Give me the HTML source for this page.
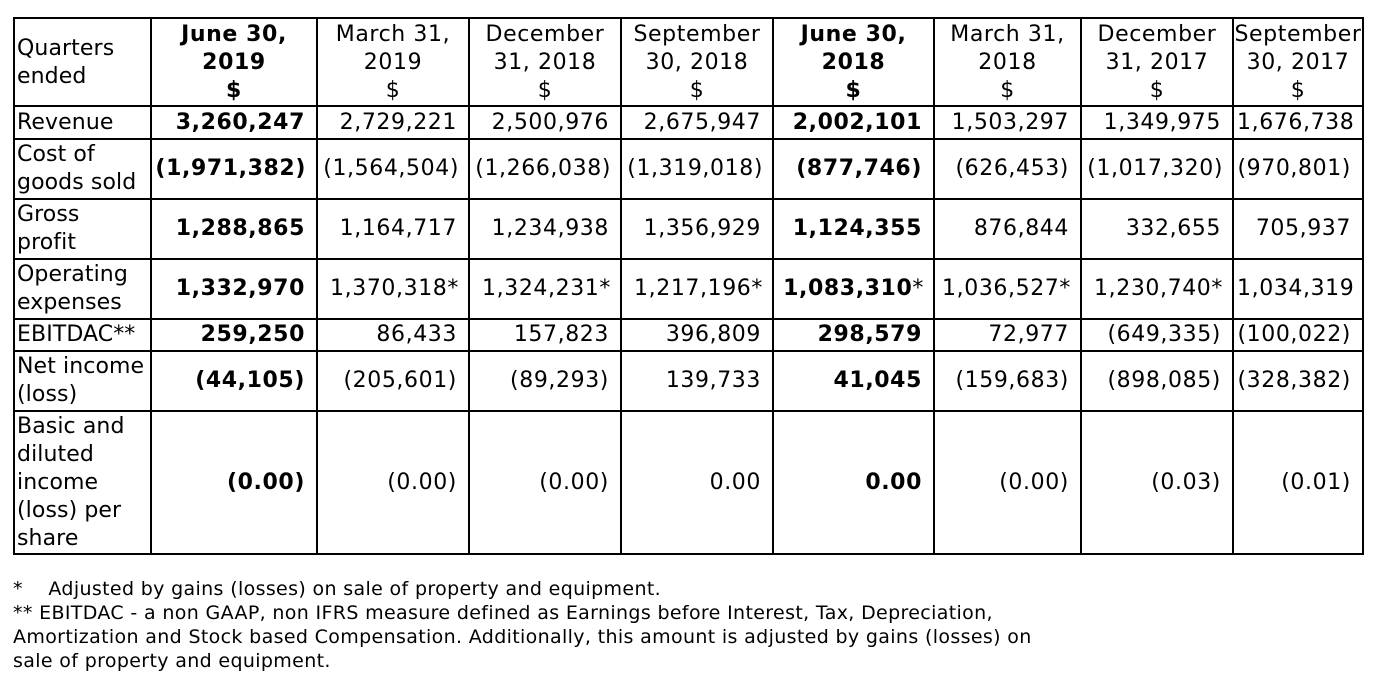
<!DOCTYPE html>
<html><head><meta charset="utf-8"><style>
html,body{margin:0;padding:0;background:#fff;}
body{width:1378px;height:675px;position:relative;overflow:hidden;font-family:"DejaVu Sans","Liberation Sans",sans-serif;color:#000;}
table{position:absolute;left:13px;top:17px;width:1349px;border-collapse:collapse;table-layout:fixed;font-size:22px;line-height:28px;letter-spacing:0.6px;}
td{border:2px solid #000;padding:0 11px 0 3px;text-align:right;vertical-align:middle;white-space:nowrap;overflow:hidden;}
td.l{text-align:left;padding-left:2px;letter-spacing:0.1px;}
tr.h td{text-align:center;padding:2px 0 0 0;}
b{font-weight:bold;}
.fn{position:absolute;left:13px;top:577px;font-size:19px;line-height:24px;letter-spacing:0.35px;}
</style></head><body>
<table>
<colgroup><col style="width:137px"><col style="width:166px"><col style="width:152px"><col style="width:152px"><col style="width:152px"><col style="width:161px"><col style="width:147px"><col style="width:152px"><col style="width:130px"></colgroup>
<tr class="h" style="height:86px"><td class="l" style="text-align:left;padding-left:2px">Quarters<br>ended</td><td><b>June 30,<br>2019<br>$</b></td><td>March 31,<br>2019<br>$</td><td>December<br>31, 2018<br>$</td><td>September<br>30, 2018<br>$</td><td><b>June 30,<br>2018<br>$</b></td><td>March 31,<br>2018<br>$</td><td>December<br>31, 2017<br>$</td><td>September<br>30, 2017<br>$</td></tr>
<tr style="height:33px"><td class="l">Revenue</td><td><b>3,260,247</b></td><td>2,729,221</td><td>2,500,976</td><td>2,675,947</td><td><b>2,002,101</b></td><td>1,503,297</td><td>1,349,975</td><td style="padding-right:9px">1,676,738</td></tr>
<tr style="height:60px"><td class="l">Cost of<br>goods sold</td><td style="padding-right:10px"><b>(1,971,382)</b></td><td style="padding-right:9px">(1,564,504)</td><td style="padding-right:9px">(1,266,038)</td><td style="padding-right:9px">(1,319,018)</td><td><b>(877,746)</b></td><td>(626,453)</td><td style="padding-right:9px">(1,017,320)</td><td>(970,801)</td></tr>
<tr style="height:60px"><td class="l">Gross<br>profit</td><td><b>1,288,865</b></td><td>1,164,717</td><td>1,234,938</td><td>1,356,929</td><td><b>1,124,355</b></td><td>876,844</td><td>332,655</td><td>705,937</td></tr>
<tr style="height:60px"><td class="l">Operating<br>expenses</td><td><b>1,332,970</b></td><td style="padding-right:9px">1,370,318*</td><td style="padding-right:9px">1,324,231*</td><td style="padding-right:9px">1,217,196*</td><td style="padding-right:9px"><b>1,083,310</b>*</td><td style="padding-right:9px">1,036,527*</td><td style="padding-right:9px">1,230,740*</td><td style="padding-right:8px">1,034,319</td></tr>
<tr style="height:32px"><td class="l">EBITDAC**</td><td><b>259,250</b></td><td>86,433</td><td>157,823</td><td>396,809</td><td><b>298,579</b></td><td>72,977</td><td>(649,335)</td><td>(100,022)</td></tr>
<tr style="height:60px"><td class="l">Net income<br>(loss)</td><td><b>(44,105)</b></td><td>(205,601)</td><td>(89,293)</td><td>139,733</td><td><b>41,045</b></td><td>(159,683)</td><td>(898,085)</td><td>(328,382)</td></tr>
<tr style="height:143px"><td class="l">Basic and<br>diluted<br>income<br>(loss) per<br>share</td><td><b>(0.00)</b></td><td>(0.00)</td><td>(0.00)</td><td>0.00</td><td><b>0.00</b></td><td>(0.00)</td><td>(0.03)</td><td>(0.01)</td></tr>
</table>
<div class="fn">*&nbsp;&nbsp;&nbsp; Adjusted by gains (losses) on sale of property and equipment.<br>** EBITDAC - a non GAAP, non IFRS measure defined as Earnings before Interest, Tax, Depreciation,<br>Amortization and Stock based Compensation. Additionally, this amount is adjusted by gains (losses) on<br>sale of property and equipment.</div>
</body></html>
